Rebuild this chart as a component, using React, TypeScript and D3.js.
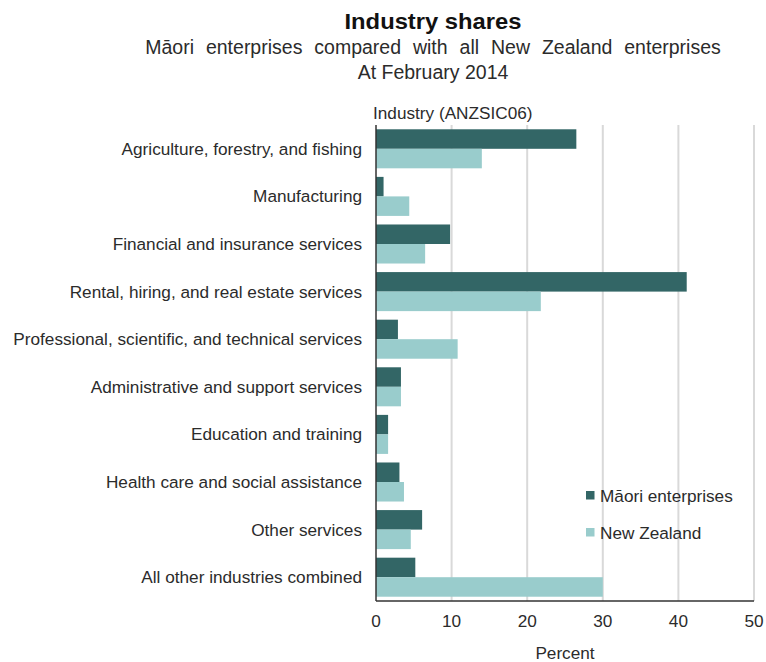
import React from "react";
import * as d3 from "d3";

const categories = [
  "Agriculture, forestry, and fishing",
  "Manufacturing",
  "Financial and insurance services",
  "Rental, hiring, and real estate services",
  "Professional, scientific, and technical services",
  "Administrative and support services",
  "Education and training",
  "Health care and social assistance",
  "Other services",
  "All other industries combined",
];
const maoriValues = [26.5, 1.0, 9.8, 41.1, 2.9, 3.3, 1.6, 3.1, 6.1, 5.2];
const nzValues = [14.0, 4.4, 6.5, 21.8, 10.8, 3.3, 1.6, 3.7, 4.6, 30.0];
const xTicks = [0, 10, 20, 30, 40, 50];
const seriesNames = ["Māori enterprises", "New Zealand"];
const colors = ["#336666", "#99cccc"];

const W = 766;
const H = 662;
const margin = { left: 376, right: 12, top: 125, bottom: 61 };
const FONT = "'Liberation Sans', Arial, sans-serif";
const TEXT = "#2b2b2b";
const FS = 17.2;

export default function App() {
  const x = d3.scaleLinear().domain([0, 50]).range([margin.left, 754]);
  const y = d3
    .scaleBand()
    .domain(categories)
    .range([margin.top, H - margin.bottom])
    .paddingInner(0.18)
    .paddingOuter(0.09);
  const bw = y.bandwidth() / 2;
  const plotBottom = H - margin.bottom;

  return (
    <div style={{ position: "absolute", left: 0, top: 0 }}>
      <svg width={W} height={H} style={{ display: "block", background: "#fff" }} fontFamily={FONT}>
        <text x={433} y={29} textAnchor="middle" fontSize={22} fontWeight="bold" fill="#111" textLength={177} lengthAdjust="spacingAndGlyphs">
          Industry shares
        </text>
        <text x={433} y={54} textAnchor="middle" fontSize={19.5} fill={TEXT} wordSpacing={6.5}>
          Māori enterprises compared with all New Zealand enterprises
        </text>
        <text x={433} y={79} textAnchor="middle" fontSize={19.5} fill={TEXT}>
          At February 2014
        </text>
        <text x={373} y={119} fontSize={FS} fill={TEXT}>
          Industry (ANZSIC06)
        </text>

        {xTicks.slice(1).map((t) => (
          <line key={"g" + t} x1={x(t)} x2={x(t)} y1={margin.top} y2={plotBottom} stroke="#d9d9d9" strokeWidth={2} />
        ))}

        {categories.map((c, i) => (
          <g key={c}>
            <rect x={x(0)} y={y(c)!} width={x(maoriValues[i]) - x(0)} height={bw} fill={colors[0]} />
            <rect x={x(0)} y={y(c)! + bw} width={x(nzValues[i]) - x(0)} height={bw} fill={colors[1]} />
            <text x={362} y={y(c)! + y.bandwidth() / 2} dy="0.35em" textAnchor="end" fontSize={FS} fill={TEXT}>
              {c}
            </text>
          </g>
        ))}

        <line x1={x(0)} x2={x(0)} y1={margin.top} y2={plotBottom} stroke="#333" strokeWidth={1.5} />
        <line x1={x(0)} x2={x(50)} y1={plotBottom} y2={plotBottom} stroke="#333" strokeWidth={1.5} />

        {xTicks.map((t) => (
          <text key={"t" + t} x={x(t)} y={627} textAnchor="middle" fontSize={FS} fill={TEXT}>
            {t}
          </text>
        ))}
        <text x={x(25)} y={659} textAnchor="middle" fontSize={FS} fill={TEXT}>
          Percent
        </text>

        {seriesNames.map((s, i) => (
          <g key={s}>
            <rect x={586} y={491 + i * 37} width={8.5} height={8.5} fill={colors[i]} />
            <text x={600} y={495.5 + i * 37} dy="0.35em" fontSize={FS} fill={TEXT}>
              {s}
            </text>
          </g>
        ))}
      </svg>
    </div>
  );
}
